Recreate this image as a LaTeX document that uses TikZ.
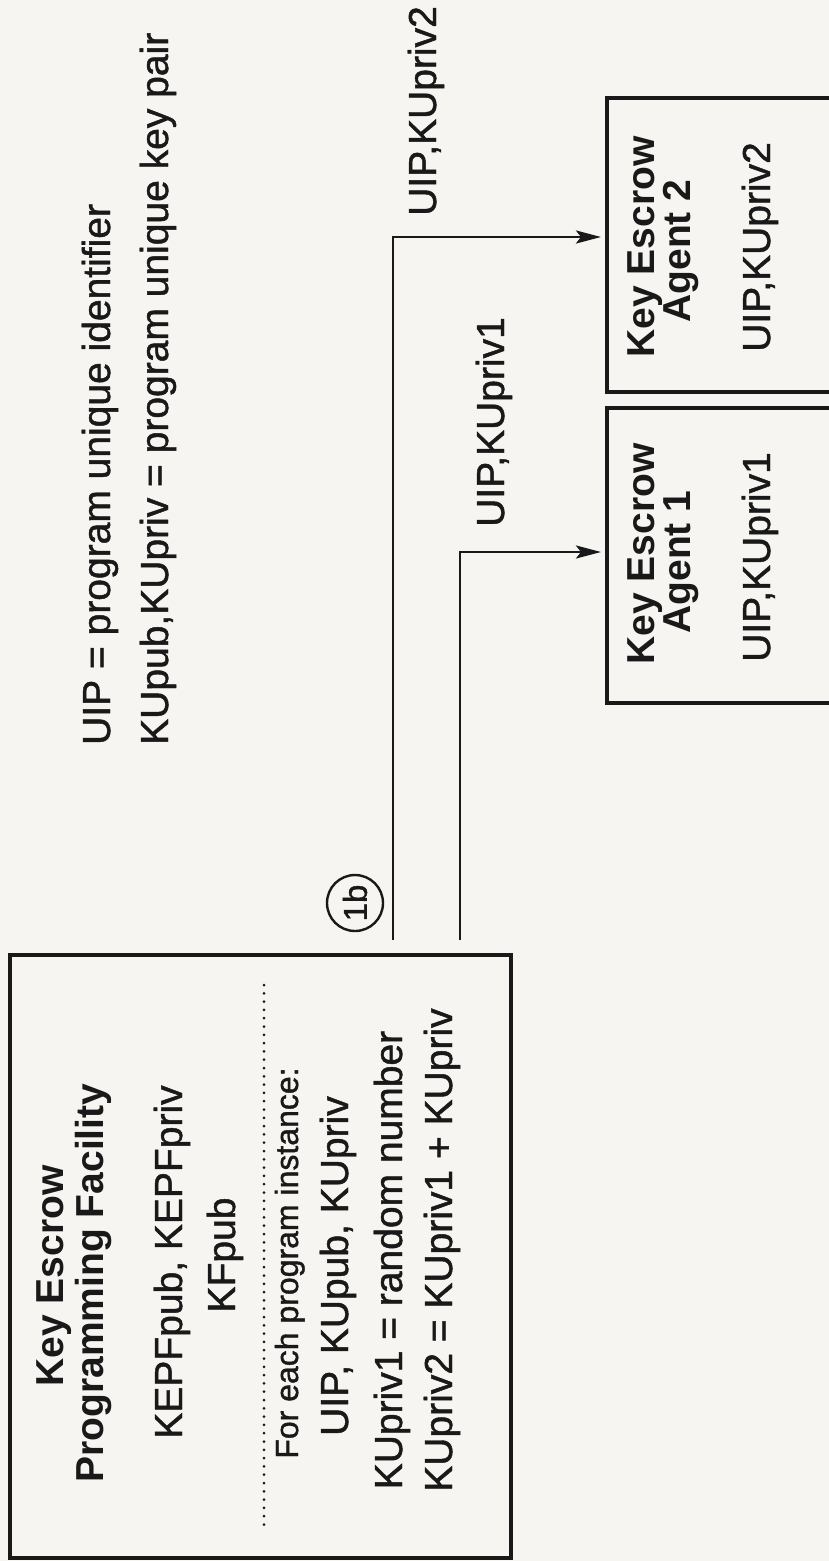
\documentclass[tikz,border=0pt]{standalone}
\usepackage{fontspec}
\setmainfont{Liberation Sans}[FakeBold=1.2]
\newfontfamily\titlefont{Liberation Sans Bold}
\usetikzlibrary{arrows.meta}
\definecolor{paper}{RGB}{246,245,241}
\definecolor{ink}{RGB}{25,25,25}
\begin{document}
\begin{tikzpicture}[x=1pt,y=-1pt,
  txt/.style={rotate=90,anchor=base,inner sep=0pt,text=ink,font=\fontsize{39}{47}\selectfont},
  small/.style={txt,font=\fontsize{32}{38}\selectfont},
  ttl/.style={txt,font=\fontsize{39}{47}\selectfont\titlefont},
  lgd/.style={txt,anchor=base west},
  boxline/.style={draw=ink,line width=3.2pt},
  conn/.style={draw=ink,line width=2.6pt,-{Stealth[length=25pt,width=13pt,inset=5pt]}},
  dots/.style={draw=ink,line width=3pt,line cap=round,dash pattern=on 0pt off 8.3pt},
]
\useasboundingbox (0,0) rectangle (829,1561);
\fill[paper] (0,0) rectangle (829,1561);

% legend
\node[lgd] (leg1) at (110,745) {UIP = program unique identifier};
\node[lgd] (leg2) at (168,745) {KUpub,KUpriv = program unique key pair};

% programming facility
\node[boxline,minimum width=501pt,minimum height=603pt,inner sep=0pt] (kepf) at (260.5,1256.5) {};
\node[ttl] (kt1) at (63,1276) {Key Escrow};
\node[ttl] (kt2) at (103,1283) {Programming Facility};
\node[txt] (k1) at (182,1262) {KEPFpub, KEPFpriv};
\node[txt] (k2) at (235,1255) {KFpub};
\draw[dots] (264,985) -- (264,1525);
\node[small] (k3) at (298,1263) {For each program instance:};
\node[txt] (k4) at (348,1266) {UIP, KUpub, KUpriv};
\node[txt] (k5) at (402,1260) {KUpriv1 = random number};
\node[txt] (k6) at (452,1250) {KUpriv2 = KUpriv1 + KUpriv};

% step marker
\node[circle,draw=ink,line width=2.4pt,minimum size=56pt,inner sep=0pt,rotate=90,text=ink,
      font=\fontsize{33}{33}\selectfont] (c1b) at (355,903) {1b};

% agents
\draw[boxline] (829,98) -- (607,98) -- (607,392) -- (829,392);
\draw[boxline] (829,408) -- (607,408) -- (607,703) -- (829,703);
\node[ttl] (a2t1) at (654,247) {Key Escrow};
\node[ttl] (a2t2) at (690,251) {Agent 2};
\node[txt] (a2k) at (770,247) {UIP,KUpriv2};
\node[ttl] (a1t1) at (654,554) {Key Escrow};
\node[ttl] (a1t2) at (690,562) {Agent 1};
\node[txt] (a1k) at (770,557) {UIP,KUpriv1};

% connectors
\coordinate (s1) at (393,940);
\coordinate (s2) at (460,940);
\coordinate (t2) at (601,237);
\coordinate (t1) at (601,552);
\draw[conn] (s1) |- (t2);
\draw[conn] (s2) |- (t1);
\node[txt] (l2) at (436,111) {UIP,KUpriv2};
\node[txt] (l1) at (504,422) {UIP,KUpriv1};
\end{tikzpicture}
\end{document}
